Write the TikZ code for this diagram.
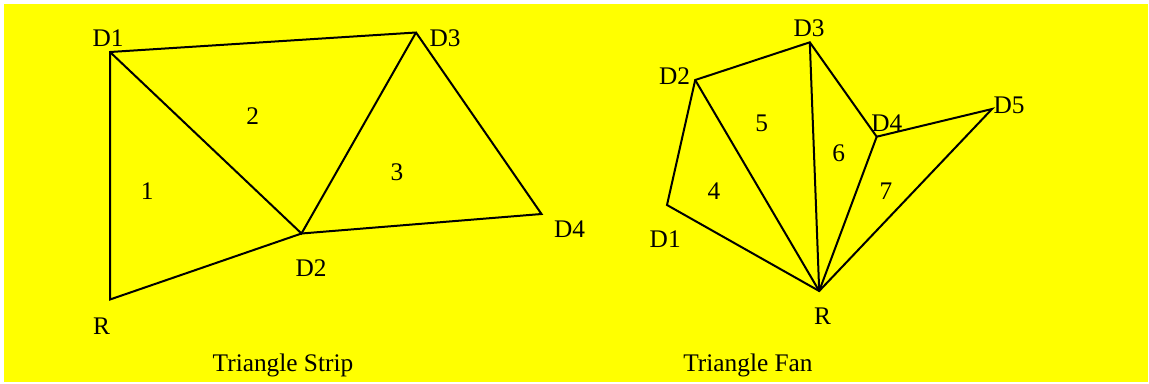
\documentclass[tikz,border=0pt]{standalone}
\usepackage{fontspec}
\setmainfont{Liberation Serif}
\usepackage{xcolor}
\usepackage{tikz}
\usetikzlibrary{positioning}

\definecolor{bgyellow}{RGB}{255,255,0}

\begin{document}
\begin{tikzpicture}[x=0.75pt, y=-0.75pt,
  edge/.style={draw, line width=1.5pt, line join=miter},
  lbl/.style={anchor=base, inner sep=0pt, font=\fontsize{19}{21}\selectfont},
  caption/.style={anchor=base, inner sep=0pt, font=\fontsize{19}{21}\selectfont}
]

% Page and background
\useasboundingbox (0,0) rectangle (1149,383);
\fill[white] (0,0) rectangle (1149,383);
\fill[bgyellow] (4,3.5) rectangle (1148,381.5);

% Triangle strip vertices
\coordinate (d1_strip) at (110, 52);
\coordinate (d3_strip) at (416, 32.5);
\coordinate (d2_strip) at (301.5, 233.5);
\coordinate (d4_strip) at (541.5, 214);
\coordinate (r_strip) at (110, 299.5);

\draw[edge] (d1_strip) -- (d3_strip) -- (d4_strip) -- (d2_strip) -- (r_strip) -- cycle;
\draw[edge] (d1_strip) -- (d2_strip) -- (d3_strip);

\node[lbl] (d1_strip_lbl) at (108, 46) {D1};
\node[lbl] (d3_strip_lbl) at (445, 46) {D3};
\node[lbl] (d2_strip_lbl) at (311, 276) {D2};
\node[lbl] (d4_strip_lbl) at (569.5, 237.3) {D4};
\node[lbl] (r_strip_lbl) at (101.5, 334.5) {R};
\node[lbl] (tri1) at (147.3, 199) {1};
\node[lbl] (tri2) at (252.6, 124) {2};
\node[lbl] (tri3) at (396.9, 180) {3};
\node[caption] (strip_title) at (283, 371.7) {Triangle Strip};

% Triangle fan vertices
\coordinate (d1_fan) at (667, 205);
\coordinate (d2_fan) at (695.2, 80);
\coordinate (d3_fan) at (809.8, 42.3);
\coordinate (d4_fan) at (876.7, 136.7);
\coordinate (d5_fan) at (992, 109);
\coordinate (r_fan) at (819.2, 291);

\draw[edge] (r_fan) -- (d1_fan) -- (d2_fan) -- (d3_fan) -- (d4_fan) -- (d5_fan) -- cycle;
\draw[edge] (r_fan) -- (d2_fan);
\draw[edge] (r_fan) -- (d3_fan);
\draw[edge] (r_fan) -- (d4_fan);

\node[lbl] (d3_fan_lbl) at (809, 36) {D3};
\node[lbl] (d2_fan_lbl) at (674.6, 84) {D2};
\node[lbl] (d1_fan_lbl) at (665.2, 247.5) {D1};
\node[lbl] (r_fan_lbl) at (822.5, 324) {R};
\node[lbl] (d4_fan_lbl) at (886.8, 131.5) {D4};
\node[lbl] (d5_fan_lbl) at (1009, 113.3) {D5};
\node[lbl] (tri5) at (761.7, 131.5) {5};
\node[lbl] (tri6) at (838.7, 161.5) {6};
\node[lbl] (tri4) at (714, 199) {4};
\node[lbl] (tri7) at (886, 199) {7};
\node[caption] (fan_title) at (748, 371.7) {Triangle Fan};

\end{tikzpicture}
\end{document}
